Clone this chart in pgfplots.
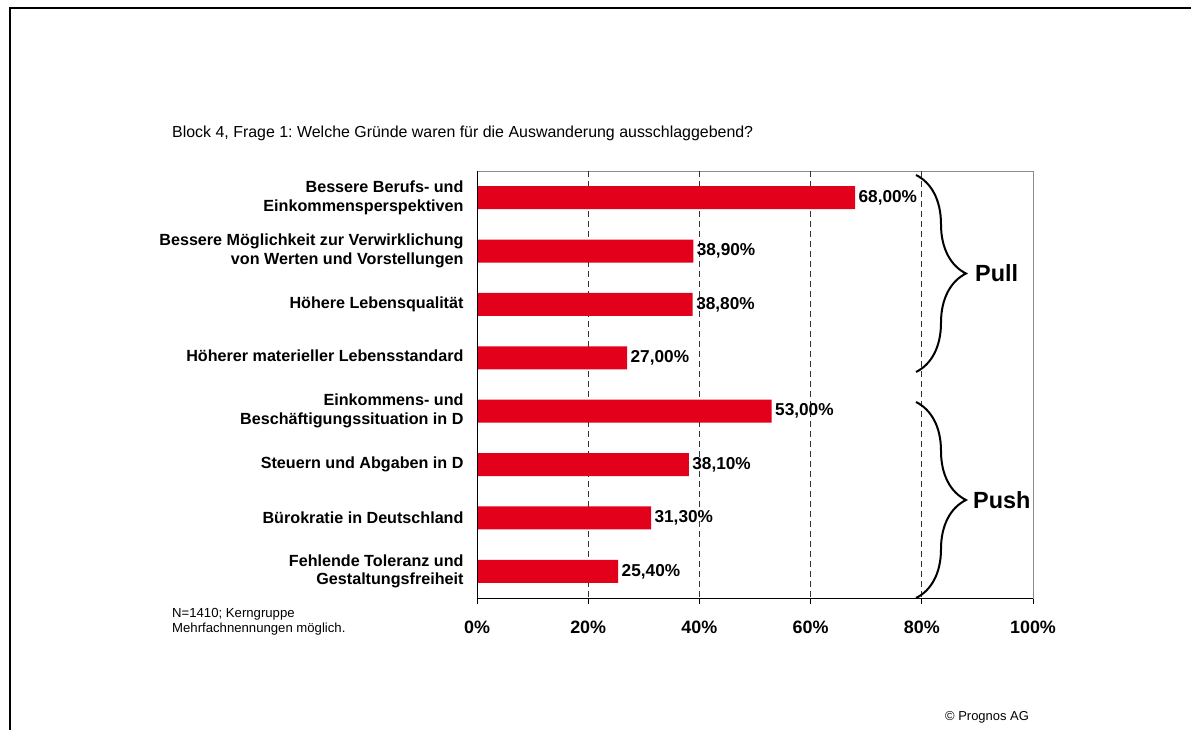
\documentclass[border=0pt]{standalone}
\usepackage{pgfplots}
\pgfplotsset{compat=1.18}
\usepackage{fontspec}
\setmainfont{Liberation Sans}
\usetikzlibrary{decorations.pathreplacing}
\definecolor{barred}{RGB}{226,0,26}
\frenchspacing
\begin{document}
\begin{tikzpicture}
\useasboundingbox (0,0) rectangle (1191bp,-730bp);
% frame
\draw[line width=2bp] (9.5bp,-730bp) -- (9.5bp,-8.3bp) -- (1191bp,-8.3bp);
% title
\node[anchor=base west, inner sep=0pt, font=\fontsize{16}{18}\selectfont] at (172bp,-137bp)
  {Block 4, Frage 1: Welche Gründe waren für die Auswanderung ausschlaggebend?};
% footnote
\node[anchor=north west, inner sep=0pt, align=left, font=\fontsize{13.2}{15.5}\selectfont] at (172bp,-608bp)
  {N=1410; Kerngruppe\\Mehrfachnennungen möglich.};
% copyright
\node[anchor=west, inner sep=0pt, font=\fontsize{13}{15}\selectfont] at (945bp,-717bp) {© Prognos AG};
\begin{axis}[
  at={(477bp,-598bp)}, anchor=south west,
  width=556bp, height=427bp, scale only axis,
  xbar, bar width=23bp,
  xmin=0, xmax=100,
  ymin=-0.5, ymax=7.5, y dir=reverse,
  /pgf/number format/assume math mode=true,
  axis line style={black!45, line width=0.8bp},
  xtick={0,20,40,60,80,100},
  xticklabels={0\%,20\%,40\%,60\%,80\%,100\%},
  xticklabel style={font=\fontsize{18}{20}\bfseries\selectfont, yshift=-13bp},
  extra x ticks={20,40,60,80},
  extra x tick labels={},
  extra x tick style={grid=major, major tick length=0pt},
  major grid style={black!80, dash pattern=on 6bp off 4bp, line width=0.8bp},
  tick align=outside,
  xtick pos=bottom, ytick pos=left,
  major tick length=6bp, minor tick length=5bp,
  tick style={black, line width=0.8bp},
  ytick={0,...,7},
  minor ytick={-0.5,0.5,...,7.5},
  ytick style={draw=none},
  minor tick style={black, line width=0.8bp},
  yticklabels={
    {Bessere Berufs- und\\Einkommensperspektiven},
    {Bessere Möglichkeit zur Verwirklichung\\von Werten und Vorstellungen},
    {\raisebox{4bp}{Höhere Lebensqualität}},
    {\raisebox{5bp}{Höherer materieller Lebensstandard}},
    {Einkommens- und\\Beschäftigungssituation in D},
    {Steuern und Abgaben in D},
    {Bürokratie in Deutschland},
    {Fehlende Toleranz und\\Gestaltungsfreiheit}},
  yticklabel style={align=right, font=\fontsize{16.2}{18.8}\bfseries\selectfont, xshift=-4bp},
  nodes near coords={\pgfmathprintnumber[fixed,fixed zerofill,precision=2,use comma]{\pgfplotspointmeta}\%},
  nodes near coords style={font=\fontsize{17.3}{19}\bfseries\selectfont, anchor=west, xshift=0bp},
  clip=false,
]
\addplot[draw=none, fill=barred] coordinates {
  (68.0,0) (38.9,1) (38.8,2) (27.0,3) (53.0,4) (38.1,5) (31.3,6) (25.4,7)};
\draw[black, line width=1bp] (rel axis cs:0,1) -- (rel axis cs:0,0) -- (rel axis cs:1,0);
\end{axis}
% braces
\draw[line width=2bp, decorate, decoration={brace, amplitude=50bp, aspect=0.5}]
  (916bp,-175bp) -- (916bp,-372bp);
\draw[line width=2bp, decorate, decoration={brace, amplitude=50bp, aspect=0.5}]
  (916bp,-402bp) -- (916bp,-598bp);
\node[anchor=west, inner sep=0pt, font=\fontsize{23.5}{26}\bfseries\selectfont] at (975bp,-273bp) {Pull};
\node[anchor=west, inner sep=0pt, font=\fontsize{23.5}{26}\bfseries\selectfont] at (973bp,-500bp) {Push};
\end{tikzpicture}
\end{document}
